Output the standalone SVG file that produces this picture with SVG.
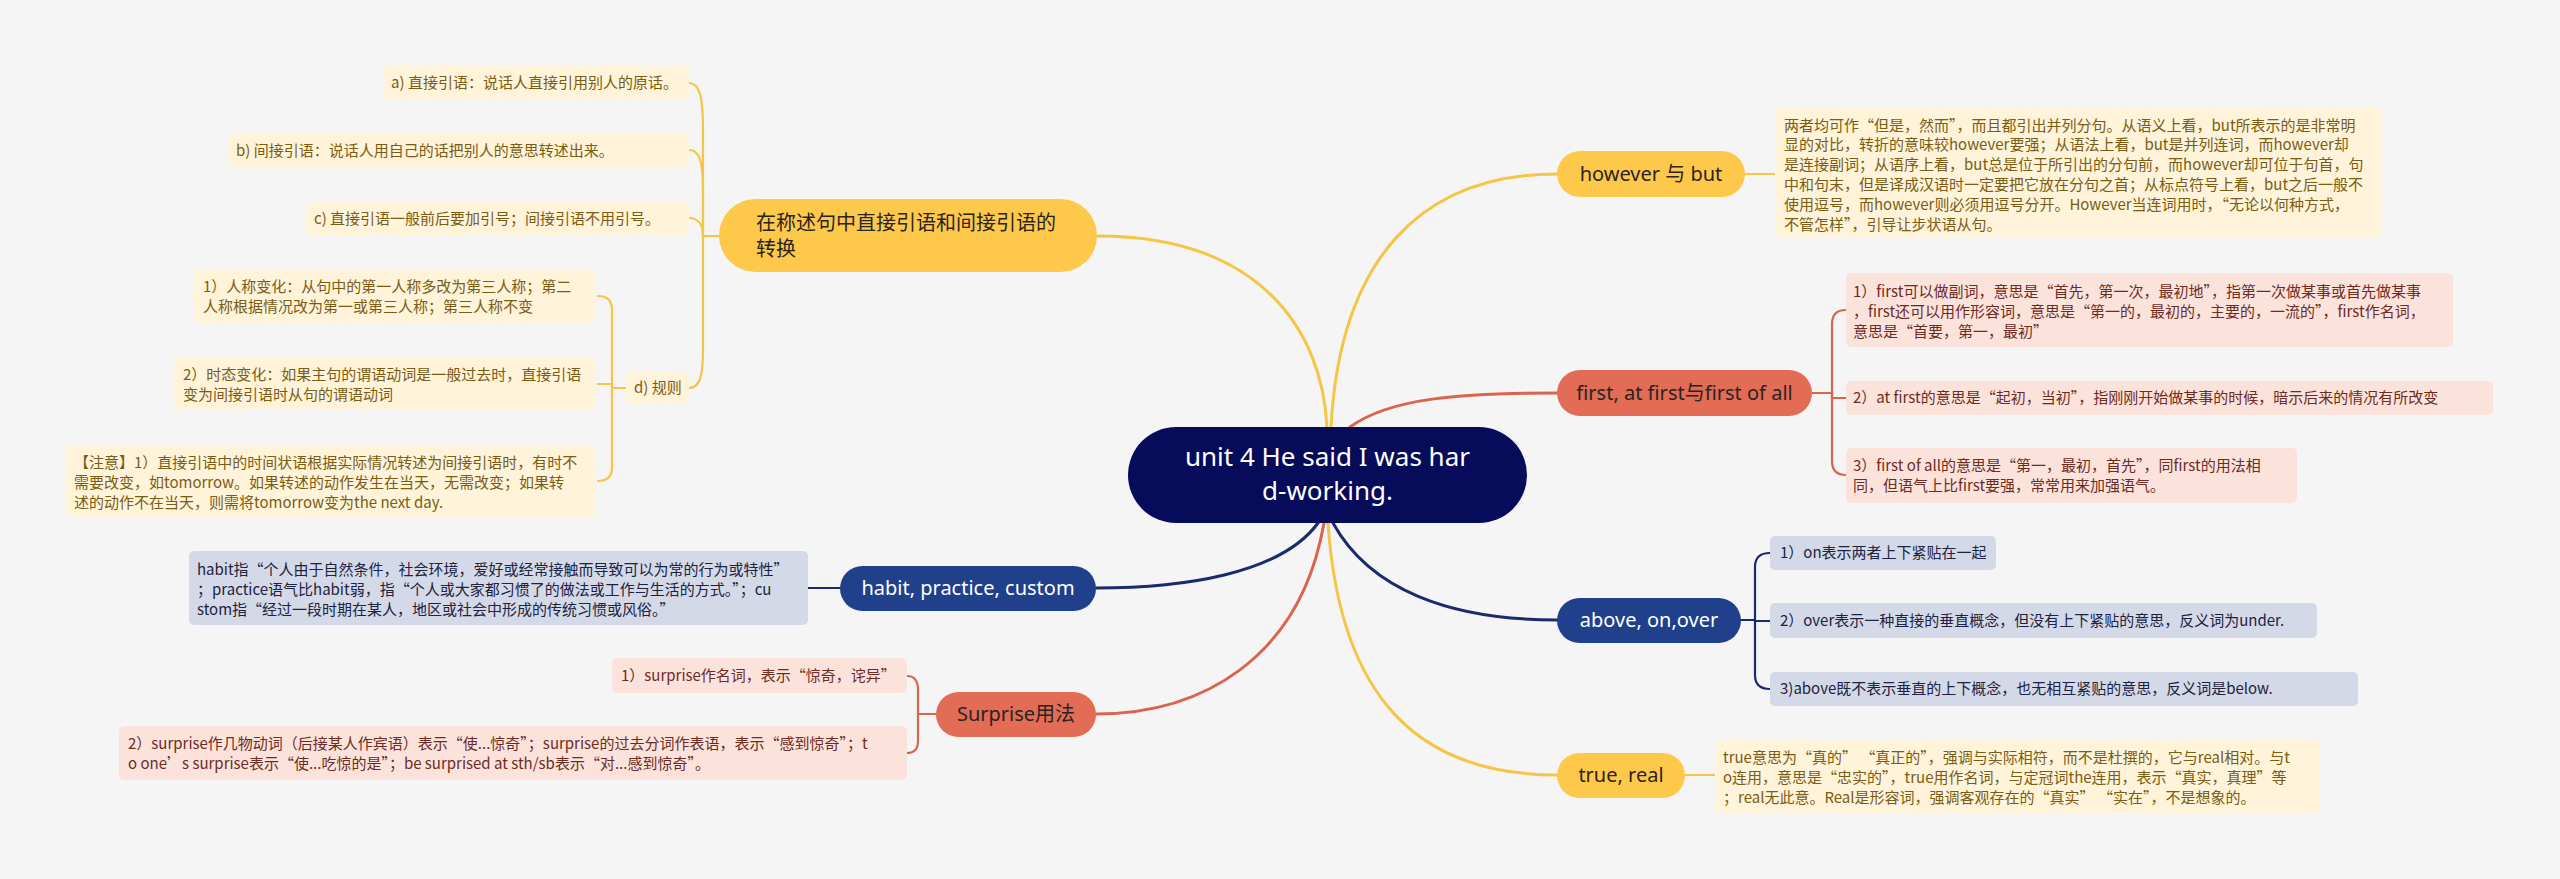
<svg xmlns="http://www.w3.org/2000/svg" width="2560" height="879" viewBox="0 0 2560 879">
<style>
.bg{fill:#f5f5f5}
.ln{fill:none;stroke-width:3;stroke-linecap:round}
.sl{fill:none;stroke-width:2.2;stroke-linecap:round}
.y{stroke:#f6c546}
.r{stroke:#d9654f}
.n{stroke:#1a2a6c}
.ny{fill:#fec94b}
.nr{fill:#e36c56}
.nn{fill:#21408c}
.nc{fill:#060c5a}
.by{fill:#fff3d9}
.br{fill:#fbe3dc}
.bn{fill:#d4d9e8}
.mt{font-family:"Noto Sans","Noto Sans CJK SC",sans-serif;font-size:20px}
.ct{font-family:"Noto Sans","Noto Sans CJK SC",sans-serif;font-size:26px;fill:#ffffff}
.st{font-family:"Noto Sans CJK SC","Noto Sans",sans-serif;font-size:15px}
.dk{fill:#2a2420}
.wt{fill:#ffffff}
.ty{fill:#7a5c14}
.tr{fill:#6e2b1f}
.tn{fill:#1c2240}
</style>
<rect class="bg" x="0" y="0" width="2560" height="879"/>
<g id="connectors">
<path class="ln y" d="M1327,427 C1322,330 1260,236 1097,236"/>
<path class="ln y" d="M1331,427 C1340,260 1420,174 1557,174"/>
<path class="ln r" d="M1350,427 C1390,398 1460,393 1557,393"/>
<path class="ln n" d="M1333,523 C1370,590 1450,620 1557,620"/>
<path class="ln y" d="M1328,523 C1340,700 1420,775 1557,775"/>
<path class="ln n" d="M1318,523 C1280,575 1180,588 1096,588"/>
<path class="ln r" d="M1324,523 C1300,660 1200,714 1096,714"/>
<path class="sl y" d="M719,236 H703"/>
<path class="sl y" d="M689,83 C699,83 703,95 703,130 V236"/>
<path class="sl y" d="M689,150 C699,150 703,160 703,190 V236"/>
<path class="sl y" d="M689,218 C699,218 703,226 703,236"/>
<path class="sl y" d="M689,388 C699,388 703,378 703,350 V236"/>
<path class="sl y" d="M626,388 H612"/>
<path class="sl y" d="M612,388 V310 Q612,296 598,296"/>
<path class="sl y" d="M612,388 V384 H598"/>
<path class="sl y" d="M612,388 V467 Q612,481 598,481"/>
<path class="sl y" d="M1745,174 H1775"/>
<path class="sl r" d="M1812,393 H1832"/>
<path class="sl r" d="M1832,393 V324 Q1832,310 1846,310"/>
<path class="sl r" d="M1832,393 V398 H1846"/>
<path class="sl r" d="M1832,393 V461 Q1832,475 1846,475"/>
<path class="sl n" d="M1741,620 H1755"/>
<path class="sl n" d="M1755,620 V567 Q1755,553 1770,553"/>
<path class="sl n" d="M1755,620 V621 H1770"/>
<path class="sl n" d="M1755,620 V675 Q1755,689 1770,689"/>
<path class="sl y" d="M1685,775 H1715"/>
<path class="sl n" d="M808,588 H840"/>
<path class="sl r" d="M936,714 H918"/>
<path class="sl r" d="M918,714 V690 Q918,676 907,676"/>
<path class="sl r" d="M918,714 V741 Q918,753 907,753"/>
</g>
<g id="center">
<rect class="nc" x="1128" y="427" width="399" height="96" rx="48"/>
<text class="ct" x="1327.5" y="466" text-anchor="middle">unit 4 He said I was har</text>
<text class="ct" x="1327.5" y="500" text-anchor="middle">d-working.</text>
</g>
<g id="n-zhuanhuan">
<rect class="ny" x="719" y="199" width="378" height="73" rx="36.5"/>
<text class="mt dk" x="756" y="230">在称述句中直接引语和间接引语的</text>
<text class="mt dk" x="756" y="256">转换</text>
</g>
<g id="n-a">
<rect class="by" x="383" y="66" width="306" height="34" rx="5"/>
<text class="st ty" x="391" y="88">a) 直接引语：说话人直接引用别人的原话。</text>
</g>
<g id="n-b">
<rect class="by" x="228" y="134" width="461" height="33" rx="5"/>
<text class="st ty" x="236" y="156">b) 间接引语：说话人用自己的话把别人的意思转述出来。</text>
</g>
<g id="n-c">
<rect class="by" x="306" y="202" width="383" height="33" rx="5"/>
<text class="st ty" x="314" y="224">c) 直接引语一般前后要加引号；间接引语不用引号。</text>
</g>
<g id="n-d">
<rect class="by" x="626" y="372" width="63" height="32" rx="5"/>
<text class="st ty" x="634" y="393">d) 规则</text>
</g>
<g id="n-d1">
<rect class="by" x="194" y="269" width="402" height="54" rx="5"/>
<text class="st ty" x="203" y="292">1）人称变化：从句中的第一人称多改为第三人称；第二</text>
<text class="st ty" x="203" y="312">人称根据情况改为第一或第三人称；第三人称不变</text>
</g>
<g id="n-d2">
<rect class="by" x="174" y="357" width="422" height="53" rx="5"/>
<text class="st ty" x="183" y="380">2）时态变化：如果主句的谓语动词是一般过去时，直接引语</text>
<text class="st ty" x="183" y="400">变为间接引语时从句的谓语动词</text>
</g>
<g id="n-d3">
<rect class="by" x="66" y="445" width="530" height="72" rx="5"/>
<text class="st ty" x="74" y="468">【注意】1）直接引语中的时间状语根据实际情况转述为间接引语时，有时不</text>
<text class="st ty" x="74" y="488">需要改变，如tomorrow。如果转述的动作发生在当天，无需改变；如果转</text>
<text class="st ty" x="74" y="508">述的动作不在当天，则需将tomorrow变为the next day.</text>
</g>
<g id="n-habit">
<rect class="nn" x="840" y="566" width="256" height="45" rx="22.5"/>
<text class="mt wt" x="968" y="595" text-anchor="middle">habit, practice, custom</text>
</g>
<g id="n-habit-d">
<rect class="bn" x="189" y="551" width="619" height="74" rx="5"/>
<text class="st tn" x="197" y="575">habit指“个人由于自然条件，社会环境，爱好或经常接触而导致可以为常的行为或特性”</text>
<text class="st tn" x="197" y="595">；practice语气比habit弱，指“个人或大家都习惯了的做法或工作与生活的方式。”；cu</text>
<text class="st tn" x="197" y="615">stom指“经过一段时期在某人，地区或社会中形成的传统习惯或风俗。”</text>
</g>
<g id="n-surprise">
<rect class="nr" x="936" y="692" width="160" height="45" rx="22.5"/>
<text class="mt dk" x="1016" y="721" text-anchor="middle">Surprise用法</text>
</g>
<g id="n-s1">
<rect class="br" x="612" y="658" width="295" height="35" rx="5"/>
<text class="st tr" x="621" y="681">1）surprise作名词，表示“惊奇，诧异”</text>
</g>
<g id="n-s2">
<rect class="br" x="119" y="726" width="788" height="54" rx="5"/>
<text class="st tr" x="128" y="749">2）surprise作几物动词（后接某人作宾语）表示“使...惊奇”；surprise的过去分词作表语，表示“感到惊奇”；t</text>
<text class="st tr" x="128" y="769">o one’s surprise表示“使...吃惊的是”；be surprised at sth/sb表示“对...感到惊奇”。</text>
</g>
<g id="n-however">
<rect class="ny" x="1557" y="151" width="188" height="46" rx="23"/>
<text class="mt dk" x="1651" y="181" text-anchor="middle">however 与 but</text>
</g>
<g id="n-however-d">
<rect class="by" x="1775" y="107" width="606" height="131" rx="5"/>
<text class="st ty" x="1784" y="131">两者均可作“但是，然而”，而且都引出并列分句。从语义上看，but所表示的是非常明</text>
<text class="st ty" x="1784" y="150">显的对比，转折的意味较however要强；从语法上看，but是并列连词，而however却</text>
<text class="st ty" x="1784" y="170">是连接副词；从语序上看，but总是位于所引出的分句前，而however却可位于句首，句</text>
<text class="st ty" x="1784" y="190">中和句末，但是译成汉语时一定要把它放在分句之首；从标点符号上看，but之后一般不</text>
<text class="st ty" x="1784" y="210">使用逗号，而however则必须用逗号分开。However当连词用时，“无论以何种方式，</text>
<text class="st ty" x="1784" y="230">不管怎样”，引导让步状语从句。</text>
</g>
<g id="n-first">
<rect class="nr" x="1557" y="370" width="255" height="46" rx="23"/>
<text class="mt dk" x="1684.5" y="400" text-anchor="middle">first, at first与first of all</text>
</g>
<g id="n-f1">
<rect class="br" x="1846" y="273" width="607" height="74" rx="5"/>
<text class="st tr" x="1853" y="297">1）first可以做副词，意思是“首先，第一次，最初地”，指第一次做某事或首先做某事</text>
<text class="st tr" x="1853" y="317">，first还可以用作形容词，意思是“第一的，最初的，主要的，一流的”，first作名词，</text>
<text class="st tr" x="1853" y="337">意思是“首要，第一，最初”</text>
</g>
<g id="n-f2">
<rect class="br" x="1846" y="381" width="647" height="34" rx="5"/>
<text class="st tr" x="1853" y="403">2）at first的意思是“起初，当初”，指刚刚开始做某事的时候，暗示后来的情况有所改变</text>
</g>
<g id="n-f3">
<rect class="br" x="1846" y="448" width="451" height="55" rx="5"/>
<text class="st tr" x="1853" y="471">3）first of all的意思是“第一，最初，首先”，同first的用法相</text>
<text class="st tr" x="1853" y="491">同，但语气上比first要强，常常用来加强语气。</text>
</g>
<g id="n-above">
<rect class="nn" x="1557" y="598" width="184" height="45" rx="22.5"/>
<text class="mt wt" x="1649" y="627" text-anchor="middle">above, on,over</text>
</g>
<g id="n-a1">
<rect class="bn" x="1770" y="536" width="226" height="34" rx="5"/>
<text class="st tn" x="1780" y="558">1）on表示两者上下紧贴在一起</text>
</g>
<g id="n-a2">
<rect class="bn" x="1770" y="603" width="547" height="35" rx="5"/>
<text class="st tn" x="1780" y="626">2）over表示一种直接的垂直概念，但没有上下紧贴的意思，反义词为under.</text>
</g>
<g id="n-a3">
<rect class="bn" x="1770" y="672" width="588" height="34" rx="5"/>
<text class="st tn" x="1780" y="694">3)above既不表示垂直的上下概念，也无相互紧贴的意思，反义词是below.</text>
</g>
<g id="n-true">
<rect class="ny" x="1557" y="753" width="128" height="45" rx="22.5"/>
<text class="mt dk" x="1621" y="782" text-anchor="middle">true, real</text>
</g>
<g id="n-true-d">
<rect class="by" x="1715" y="739" width="604" height="74" rx="5"/>
<text class="st ty" x="1723" y="763">true意思为“真的” “真正的”，强调与实际相符，而不是杜撰的，它与real相对。与t</text>
<text class="st ty" x="1723" y="783">o连用，意思是“忠实的”，true用作名词，与定冠词the连用，表示“真实，真理”等</text>
<text class="st ty" x="1723" y="803">；real无此意。Real是形容词，强调客观存在的“真实” “实在”，不是想象的。</text>
</g>
</svg>
